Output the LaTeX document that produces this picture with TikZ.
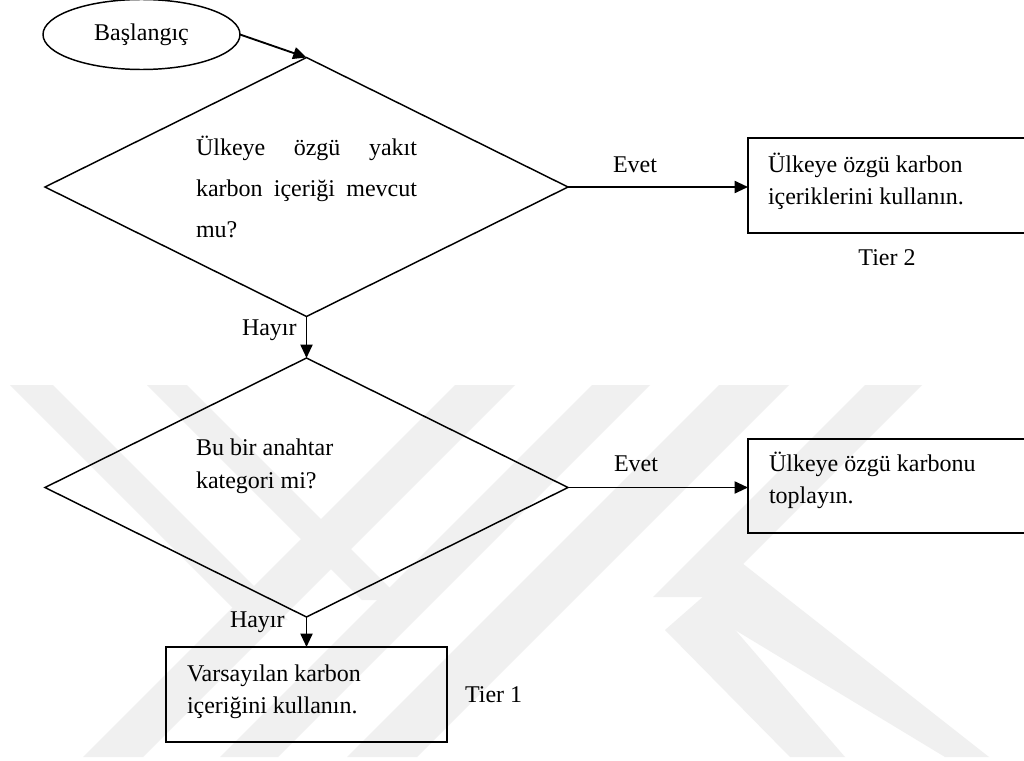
\documentclass[tikz,border=0pt]{standalone}
\usepackage{fontspec}
\setmainfont{Liberation Serif}
\usetikzlibrary{shapes.geometric,arrows.meta}
\begin{document}
\begin{tikzpicture}[x=0.75pt,y=-0.75pt,
  every node/.style={inner sep=0pt, outer sep=0pt, font=\fontsize{18}{23.5}\selectfont},
  arr/.style={line width=1.4pt, -{Triangle[length=10pt,width=9pt]}},
  dia/.style={shape=diamond, draw, line width=1.1pt, minimum width=392.25pt, minimum height=194.25pt},
  boxn/.style={rectangle, draw, line width=1.4pt},
  txt/.style={anchor=base west, align=left},
  wm/.style={fill=black!6, draw=none}]
\useasboundingbox (0,0) rectangle (1024,760);
\fill[white] (0,0) rectangle (1024,760);
% faint background watermark
\fill[wm] (10,385) -- (53,385) -- (288,620) -- (245,620) -- cycle;
\fill[wm] (147,385) -- (187,385) -- (402,600) -- (362,600) -- cycle;
\fill[wm] (455,385) -- (515,385) -- (143,757) -- (83,757) -- cycle;
\fill[wm] (592,385) -- (650,385) -- (278,757) -- (220,757) -- cycle;
\fill[wm] (719,385) -- (789,385) -- (417,757) -- (347,757) -- cycle;
\fill[wm] (865,385) -- (922,385) -- (710,597) -- (653,597) -- cycle;
\fill[wm] (665,630) -- (705,595) -- (845,757) -- (790,757) -- cycle;
\fill[wm] (697,607) -- (742,563) -- (989,757) -- (945,757) -- cycle;
% shapes
\node[ellipse, draw, line width=1.1pt, minimum width=147.75pt, minimum height=52.5pt] (start) at (141.5,34.5) {Başlangıç};
\node[dia] (d1) at (306.5,187) {};
\node[dia] (d2) at (306.5,487.5) {};
\node[boxn, minimum width=217.5pt, minimum height=71.25pt] (b1) at (893,185.5) {};
\node[boxn, minimum width=217.5pt, minimum height=70.5pt] (b2) at (893,486) {};
\node[boxn, minimum width=210.75pt, minimum height=71.25pt] (b3) at (306.5,694.5) {};
% texts (anchored at the baseline of the last line)
\node[txt, font=\fontsize{18}{30.75}\selectfont] (d1t) at (196,237)
  {\makebox[165.75pt][s]{Ülkeye özgü yakıt}\\\makebox[165.75pt][s]{karbon içeriği mevcut}\\mu?};
\node[txt, font=\fontsize{18}{24.75}\selectfont] (d2t) at (196,488) {Bu bir anahtar\\kategori mi?};
\node[txt] (b1t) at (768,204) {Ülkeye özgü karbon\\içeriklerini kullanın.};
\node[txt] (b2t) at (769,503) {Ülkeye özgü karbonu\\toplayın.};
\node[txt] (b3t) at (187,713) {Varsayılan karbon\\içeriğini kullanın.};
\node[txt] (evet1) at (613,172) {Evet};
\node[txt] (evet2) at (614,471) {Evet};
\node[txt] (hayir1) at (242,335) {Hayır};
\node[txt] (hayir2) at (230,627) {Hayır};
\node[anchor=base] (tier2) at (887,265) {Tier 2};
\node[txt] (tier1) at (465,702) {Tier 1};
% connectors
\draw[arr] (start.east) -- (d1.north);
\draw[arr] (d1.east) -- (d1.east -| b1.west);
\draw[arr] (d1.south) -- (d2.north);
\draw[arr] (d2.east) -- (d2.east -| b2.west);
\draw[arr] (d2.south) -- (b3.north);
\end{tikzpicture}
\end{document}
